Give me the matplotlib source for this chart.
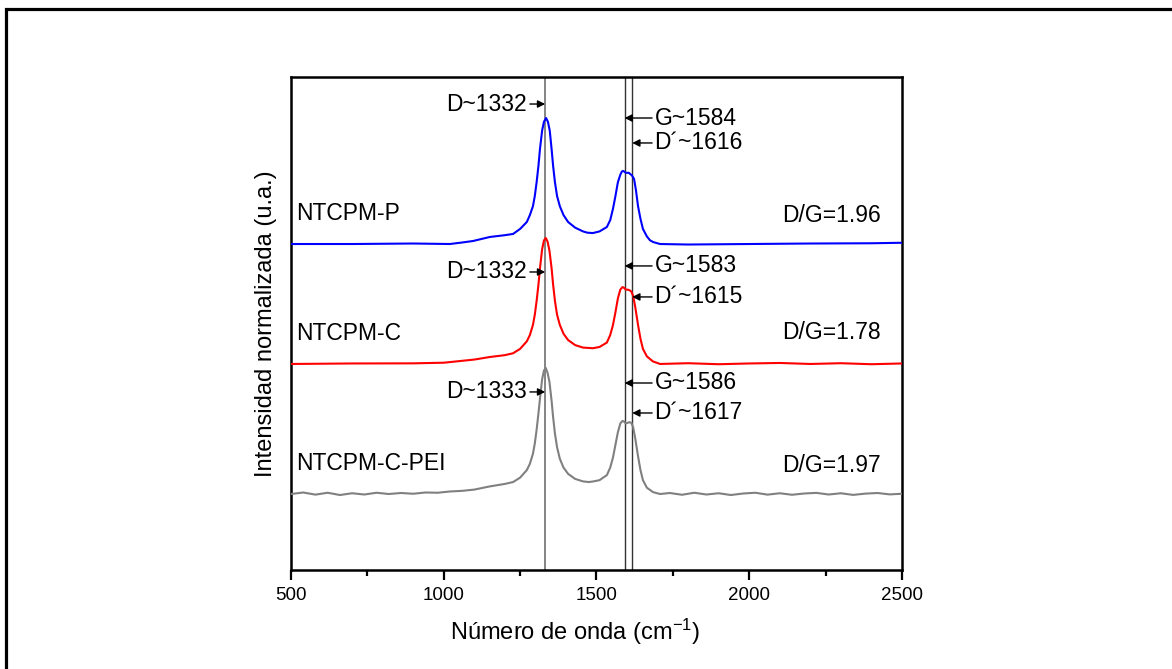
import numpy as np
import matplotlib
matplotlib.use("Agg")
import matplotlib.pyplot as plt
from matplotlib.patches import Rectangle
from matplotlib.ticker import MultipleLocator, NullLocator

plt.rcParams['font.family'] = ['Liberation Sans', 'DejaVu Sans']
plt.rcParams['mathtext.fontset'] = 'custom'
plt.rcParams['mathtext.rm'] = 'Liberation Sans'
plt.rcParams['mathtext.default'] = 'regular'

# Raman spectra, normalised to the D band (baseline = 0, D = 1)
wn_p = [500, 700, 900, 1020, 1060, 1096, 1151, 1200, 1227, 1250, 1272, 1282, 1292,
        1298, 1304, 1310, 1315, 1322, 1328, 1335, 1341, 1347, 1353, 1358, 1364,
        1371, 1380, 1392, 1407, 1430, 1456, 1470, 1488, 1510, 1534, 1545, 1554,
        1562, 1570, 1578, 1583, 1587, 1591, 1596, 1601, 1606, 1610, 1616, 1623,
        1629, 1636, 1644, 1652, 1665, 1675, 1685, 1708, 1800, 2000, 2200, 2400, 2500]
int_p = [0.0, 0.0, 0.004, 0.0, 0.012, 0.024, 0.056, 0.07, 0.08, 0.12, 0.175, 0.23, 0.30,
         0.38, 0.49, 0.62, 0.754, 0.90, 0.97, 1.0, 0.97, 0.90, 0.754, 0.62, 0.49,
         0.38, 0.30, 0.23, 0.175, 0.13, 0.10, 0.09, 0.087, 0.10, 0.135, 0.19, 0.28,
         0.38, 0.49, 0.55, 0.575, 0.58, 0.575, 0.565, 0.565, 0.565, 0.556, 0.545, 0.516,
         0.43, 0.30, 0.20, 0.12, 0.06, 0.03, 0.016, 0.0, -0.004, 0.0, 0.004, 0.006, 0.01]

wn_c = [500, 700, 900, 1000, 1100, 1150, 1200, 1227, 1250, 1272, 1282, 1292, 1298,
        1304, 1310, 1315, 1322, 1328, 1334, 1340, 1346, 1353, 1358, 1364, 1371,
        1380, 1392, 1407, 1430, 1456, 1488, 1510, 1534, 1545, 1554, 1562, 1570,
        1578, 1585, 1590, 1596, 1602, 1608, 1614, 1620, 1627, 1636, 1644, 1652,
        1665, 1685, 1708, 1800, 1900, 2000, 2100, 2200, 2300, 2400, 2500]
int_c = [0.0, 0.004, 0.005, 0.01, 0.035, 0.055, 0.07, 0.085, 0.12, 0.18, 0.23, 0.31, 0.39,
         0.50, 0.63, 0.76, 0.91, 0.98, 1.0, 0.97, 0.90, 0.76, 0.63, 0.50, 0.39,
         0.31, 0.24, 0.19, 0.15, 0.13, 0.125, 0.135, 0.17, 0.23, 0.31, 0.41, 0.52,
         0.59, 0.61, 0.605, 0.59, 0.59, 0.585, 0.575, 0.54, 0.45, 0.31, 0.20, 0.12,
         0.06, 0.02, 0.0, 0.006, -0.002, 0.004, 0.008, 0.0, 0.006, -0.002, 0.004]

wn_pei = [500, 540, 580, 620, 660, 700, 740, 780, 820, 860, 900, 940, 980, 1020,
          1060, 1100, 1150, 1200, 1227, 1250, 1272, 1282, 1292, 1298, 1304, 1310,
          1316, 1322, 1328, 1334, 1340, 1346, 1353, 1358, 1364, 1371, 1380, 1392,
          1407, 1430, 1456, 1475, 1490, 1510, 1534, 1545, 1554, 1562, 1570, 1578,
          1585, 1590, 1596, 1602, 1608, 1614, 1620, 1627, 1636, 1644, 1652, 1665,
          1685, 1708, 1740, 1780, 1820, 1860, 1900, 1940, 1980, 2020, 2060, 2100,
          2140, 2180, 2220, 2260, 2300, 2340, 2380, 2420, 2460, 2500]
int_pei = [0.0, 0.012, -0.005, 0.01, -0.008, 0.006, -0.004, 0.01, 0.0, 0.008, 0.002,
           0.012, 0.01, 0.02, 0.025, 0.035, 0.06, 0.08, 0.095, 0.13, 0.19, 0.24, 0.32,
           0.40, 0.51, 0.64, 0.78, 0.91, 0.98, 1.0, 0.96, 0.89, 0.74, 0.61, 0.48,
           0.37, 0.28, 0.21, 0.16, 0.12, 0.10, 0.095, 0.10, 0.11, 0.15, 0.21, 0.29,
           0.39, 0.49, 0.56, 0.58, 0.575, 0.56, 0.565, 0.57, 0.565, 0.53, 0.44, 0.30,
           0.19, 0.11, 0.05, 0.015, 0.0, 0.008, -0.006, 0.01, -0.004, 0.006, -0.008,
           0.004, 0.01, -0.005, 0.006, -0.006, 0.004, 0.009, -0.004, 0.006, -0.007,
           0.003, 0.008, -0.003, 0.002]

offsets = [2.587, 1.635, 0.603]
names = ['NTCPM-P', 'NTCPM-C', 'NTCPM-C-PEI']
ratios = ['D/G=1.96', 'D/G=1.78', 'D/G=1.97']
colors = ['#0000ff', '#ff0000', '#808080']

band_lines = [1332, 1592, 1617]
d_labels = ['D~1332', 'D~1332', 'D~1333']
g_labels = ['G~1584', 'G~1583', 'G~1586']
dp_labels = ['D\u00b4~1616', 'D\u00b4~1615', 'D\u00b4~1617']

fig = plt.figure(figsize=(11.72, 6.69), dpi=100)
ax = fig.add_axes([0.2483, 0.148, 0.5213, 0.737])

# outer frame (only top and left visible)
fig.patches.append(Rectangle((0.0055, -0.2), 1.5, 1.1865, transform=fig.transFigure,
                             fill=False, lw=2.3, ec='k', clip_on=False))

for x, y, off, c in zip([wn_p, wn_c, wn_pei], [int_p, int_c, int_pei], offsets, colors):
    ax.plot(x, np.array(y) + off, color=c, lw=1.5, zorder=3)

ax.axvline(band_lines[0], color='#707070', lw=1.2, zorder=2)
ax.axvline(band_lines[1], color='#333333', lw=1.0, zorder=2)
ax.axvline(band_lines[2], color='#333333', lw=1.0, zorder=2)

fs = 16.5
arr = dict(arrowstyle='-|>', color='k', lw=1.0, mutation_scale=11, shrinkA=0, shrinkB=0)
ann_y = [(3.698, 3.587, 3.389), (2.365, 2.413, 2.167), (1.413, 1.484, 1.246)]
label_y = [2.833, 1.873, 0.849]
ratio_y = [2.81, 1.881, 0.833]
for i in range(3):
    yd, yg, ydp = ann_y[i]
    ax.annotate('', xy=(band_lines[0], yd), xytext=(1282, yd), arrowprops=arr)
    ax.text(1272, yd, d_labels[i], ha='right', va='center', fontsize=fs)
    ax.annotate('', xy=(band_lines[1], yg), xytext=(1682, yg), arrowprops=arr)
    ax.text(1690, yg, g_labels[i], ha='left', va='center', fontsize=fs)
    ax.annotate('', xy=(band_lines[2], ydp), xytext=(1682, ydp), arrowprops=arr)
    ax.text(1690, ydp, dp_labels[i], ha='left', va='center', fontsize=fs)
    ax.text(518, label_y[i], names[i], ha='left', va='center', fontsize=fs)
    ax.text(2431, ratio_y[i], ratios[i], ha='right', va='center', fontsize=fs)

ax.set_xlim(500, 2500)
ax.set_ylim(0, 3.913)
ax.xaxis.set_major_locator(MultipleLocator(500))
ax.xaxis.set_minor_locator(MultipleLocator(250))
ax.yaxis.set_major_locator(NullLocator())
ax.tick_params(axis='x', which='major', direction='out', length=7, width=1.6,
               labelsize=13.5, pad=5)
ax.tick_params(axis='x', which='minor', direction='out', length=4, width=1.6)
for s in ax.spines.values():
    s.set_linewidth(1.8)

ax.set_xlabel('Número de onda (cm$^{-1}$)', fontsize=17, labelpad=8)
ax.xaxis.set_label_coords(0.465, -0.095)
ax.set_ylabel('Intensidad normalizada (u.a.)', fontsize=17, labelpad=10)

fig.savefig('out.png', dpi=100)
